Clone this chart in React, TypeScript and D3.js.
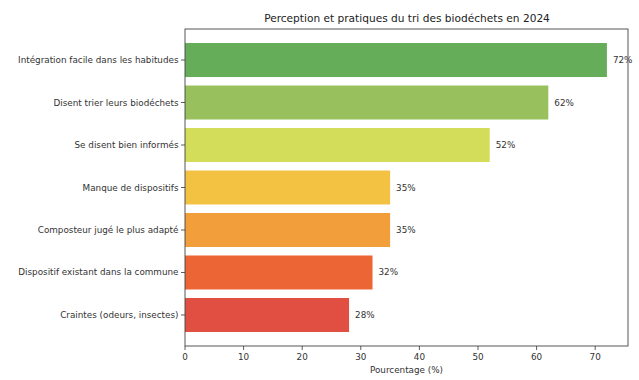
import React from "react";
import * as d3 from "d3";

const categories = [
  "Intégration facile dans les habitudes",
  "Disent trier leurs biodéchets",
  "Se disent bien informés",
  "Manque de dispositifs",
  "Composteur jugé le plus adapté",
  "Dispositif existant dans la commune",
  "Craintes (odeurs, insectes)",
];
const values = [72, 62, 52, 35, 35, 32, 28];
const colors = ["#66ad5a", "#98c15e", "#d3dd5a", "#f4c243", "#f29e3b", "#ec6535", "#e04f41"];
const xTicks = [0, 10, 20, 30, 40, 50, 60, 70];
const title = "Perception et pratiques du tri des biodéchets en 2024";
const xLabel = "Pourcentage (%)";

const W = 639;
const H = 380;
const left = 185;
const right = 628;
const top = 29;
const bottom = 346;

export default function App() {
  const x = d3.scaleLinear().domain([0, 75.6]).range([left, right]);
  const n = categories.length;
  const y = d3.scaleLinear().domain([-0.73, n - 1 + 0.73]).range([top, bottom]);
  const barH = (y(1) - y(0)) * 0.8;
  const font = "DejaVu Sans, sans-serif";
  const txt = "#333";
  const fs = 8.8;
  return (
    <svg width={W} height={H} style={{ position: "absolute", left: 0, top: 0, background: "#fff" }} fontFamily={font}>
      <text x={(left + right) / 2 + 0.5} y={22} textAnchor="middle" fontSize={10.6} fill="#222">{title}</text>
      {values.map((v, i) => (
        <g key={i}>
          <rect x={x(0)} y={y(i) - barH / 2} width={x(v) - x(0)} height={barH} fill={colors[i]} />
          <text x={x(v) + 6} y={y(i)} dominantBaseline="central" fontSize={fs} fill={txt}>{v}%</text>
          <line x1={left} x2={left - 4} y1={y(i)} y2={y(i)} stroke="#333" strokeWidth={0.8} />
          <text x={left - 6.5} y={y(i)} dominantBaseline="central" textAnchor="end" fontSize={fs} fill={txt}>{categories[i]}</text>
        </g>
      ))}
      <rect x={left} y={top} width={right - left} height={bottom - top} fill="none" stroke="#444" strokeWidth={0.9} />
      {xTicks.map((t) => (
        <g key={t}>
          <line x1={x(t)} x2={x(t)} y1={bottom} y2={bottom + 4} stroke="#333" strokeWidth={0.8} />
          <text x={x(t)} y={bottom + 14} textAnchor="middle" fontSize={fs} fill={txt}>{t}</text>
        </g>
      ))}
      <text x={(left + right) / 2} y={bottom + 27} textAnchor="middle" fontSize={fs} fill={txt}>{xLabel}</text>
    </svg>
  );
}
